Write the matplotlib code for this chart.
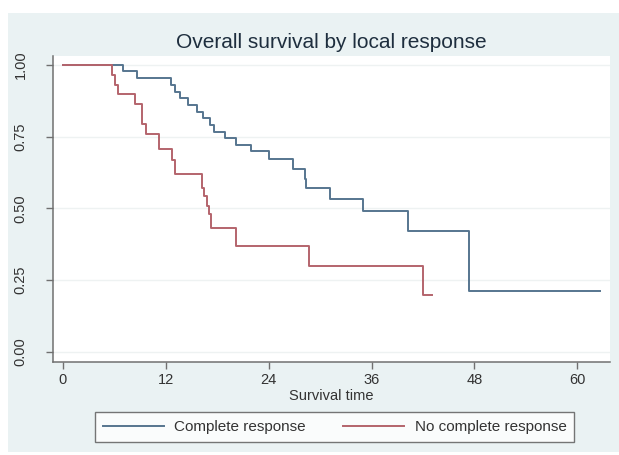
import matplotlib.pyplot as plt
from matplotlib.patches import Rectangle

# Kaplan-Meier estimates (time in months)
cr_time = [0, 7.0, 8.6, 12.6, 13.1, 13.7, 14.6, 15.6, 16.4, 17.2, 17.6, 18.9,
           20.2, 22.0, 24.1, 26.9, 28.2, 28.4, 31.1, 35.0, 40.2, 47.4, 62.6]
cr_surv = [1.0, 0.977, 0.954, 0.930, 0.907, 0.884, 0.861, 0.837, 0.814, 0.791,
           0.767, 0.745, 0.722, 0.700, 0.671, 0.636, 0.601, 0.572, 0.531, 0.491,
           0.421, 0.211, 0.211]

ncr_time = [0, 5.7, 6.1, 6.5, 8.4, 9.2, 9.75, 11.2, 12.7, 13.1, 16.2, 16.5,
            16.8, 17.1, 17.3, 20.2, 28.7, 42.0, 43.0]
ncr_surv = [1.0, 0.965, 0.931, 0.897, 0.862, 0.793, 0.759, 0.706, 0.667, 0.619,
            0.572, 0.543, 0.508, 0.479, 0.432, 0.368, 0.298, 0.197, 0.197]

x_ticks = [0, 12, 24, 36, 48, 60]
y_ticks = [0.0, 0.25, 0.5, 0.75, 1.0]
y_labels = ["0.00", "0.25", "0.50", "0.75", "1.00"]

plt.rcParams['font.family'] = ['Liberation Sans', 'DejaVu Sans']

fig = plt.figure(figsize=(6.19, 4.55), dpi=100)
fig.patch.set_facecolor('white')
# light graph region like Stata's s2color scheme
bg = Rectangle((8 / 619, 3 / 455), 611 / 619, 439 / 455,
               transform=fig.transFigure, facecolor='#eaf2f3',
               edgecolor='none', zorder=-10)
fig.add_artist(bg)

ax = fig.add_axes([52.7 / 619, 1 - 361.7 / 455, (610 - 52.7) / 619, (361.7 - 56) / 455])
ax.set_facecolor('white')

blue = '#56758f'
red = '#b4646c'
ax.step(cr_time, cr_surv, where='post', color=blue, lw=1.4, label='Complete response')
ax.step(ncr_time, ncr_surv, where='post', color=red, lw=1.4, label='No complete response')

ax.set_xlim(-1.17, 63.8)
ax.set_ylim(-0.035, 1.031)
ax.set_xticks(x_ticks)
ax.set_yticks(y_ticks)
ax.set_yticklabels(y_labels, rotation=90, va='center')
ax.grid(axis='y', color='#eef2f2', lw=1)
ax.set_axisbelow(True)

for side in ['top', 'right']:
    ax.spines[side].set_visible(False)
for side in ['left', 'bottom']:
    ax.spines[side].set_color('#707070')
    ax.spines[side].set_linewidth(1.1)

ax.tick_params(axis='both', colors='#707070', labelcolor='#333333', length=5,
               width=1, labelsize=10.5)
ax.tick_params(axis='y', pad=13)
ax.tick_params(axis='x', pad=3)

fig.text(331 / 619, 1 - 43 / 455, 'Overall survival by local response',
         ha='center', va='center', fontsize=15, color='#1e2e3e')
fig.text(331 / 619, 1 - 396 / 455, 'Survival time', ha='center', va='center',
         fontsize=10.5, color='#333333')

leg = fig.legend(loc='center', ncol=2,
                 bbox_to_anchor=(334.5 / 619, 1 - 427 / 455),
                 fontsize=11, frameon=True, fancybox=False, handlelength=4.0,
                 borderpad=0.5, columnspacing=2.4, handletextpad=0.7)
leg.get_frame().set_edgecolor('#555555')
leg.get_frame().set_linewidth(1)
for t in leg.get_texts():
    t.set_color('#333333')

plt.savefig('out.png', dpi=100)
